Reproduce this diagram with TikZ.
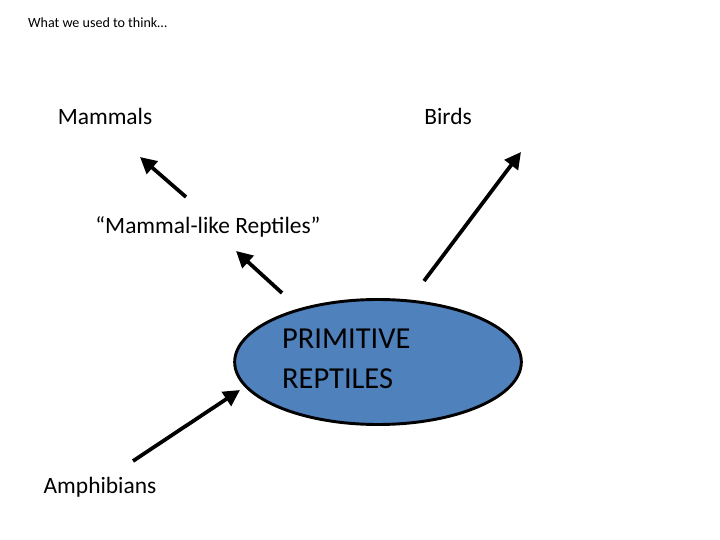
\documentclass[tikz,border=0pt]{standalone}
\usepackage{fontspec}
\setmainfont{Carlito}
\usetikzlibrary{arrows.meta,shapes.geometric}

\tikzset{
 lbl/.style={font=\fontsize{20}{24}\selectfont},
 thick arrow/.style={line width=3.2pt,-{Triangle[length=14pt,width=14pt]}}
}

\begin{document}
\begin{tikzpicture}[x=0.03cm,y=-0.03cm]
 \useasboundingbox (0,0) rectangle (720,540);
 \node[font=\fontsize{12}{14}\selectfont,anchor=west] (title) at (24,23) {What we used to think\dots};
 \node[lbl] (mammals) at (105,116) {Mammals};
 \node[lbl] (birds) at (448,116) {Birds};
 \node[lbl] (mlr) at (208,227) {``Mammal-like Reptiles''};
 \node[lbl] (amph) at (100,487) {Amphibians};
 \node[draw=black,line width=2.5pt,fill={rgb,255:red,79;green,129;blue,189},ellipse,inner sep=0pt,
   minimum width=8.6cm,minimum height=3.75cm] (prim) at (378,362) {};
 \node[font=\fontsize{26}{34}\selectfont,align=left,anchor=west] (primtext) at (278,359) {PRIMITIVE\\REPTILES};
 % arrows
 \coordinate (a1) at (186,197); \coordinate (b1) at (140,157);
 \coordinate (a2) at (424,281); \coordinate (b2) at (521,152);
 \coordinate (a3) at (282,293); \coordinate (b3) at (236,251);
 \coordinate (a4) at (133,461); \coordinate (b4) at (240,390);
 \draw[thick arrow] (a1) -- (b1);
 \draw[thick arrow] (a2) -- (b2);
 \draw[thick arrow] (a3) -- (b3);
 \draw[thick arrow] (a4) -- (b4);
\end{tikzpicture}
\end{document}
